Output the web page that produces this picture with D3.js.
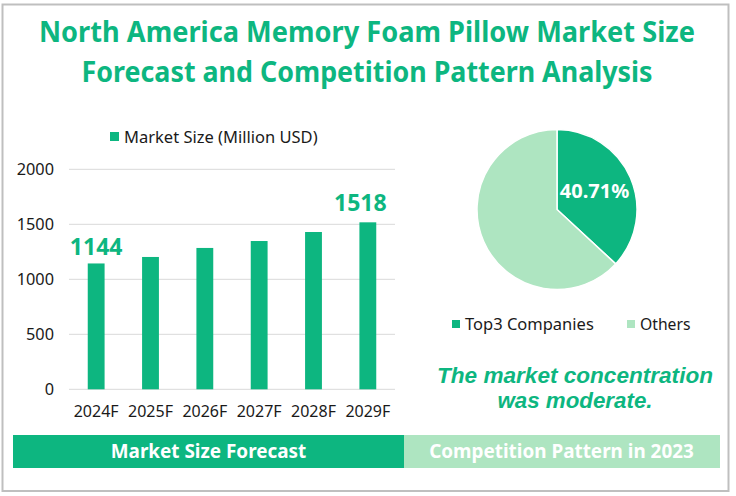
<!DOCTYPE html>
<html>
<head>
<meta charset="utf-8">
<script src="https://cdn.jsdelivr.net/npm/d3@7"></script>
<style>
html,body{margin:0;padding:0;background:#fff;}
svg{display:block;}
text{font-family:"Noto Sans",sans-serif;}
</style>
</head>
<body>
<div id="chart"></div>
<script>
const titleLines=["North America Memory Foam Pillow Market Size","Forecast and Competition Pattern Analysis"];
const years=["2024F","2025F","2026F","2027F","2028F","2029F"];
const marketSize=[1144,1203,1285,1348,1430,1518];
const yTicks=[0,500,1000,1500,2000];
const barSeriesName="Market Size (Million USD)";
const pieNames=["Top3 Companies","Others"];
const pieValues=[36.9,63.1];   // slice size as drawn, the label below says otherwise
const pieLabel="40.71%";
const noteLines=["The market concentration","was moderate."];
const panelNames=["Market Size Forecast","Competition Pattern in 2023"];

const green="#0DB680",light="#AEE5C1",ink="#1a1a1a";

const svg=d3.select("#chart").append("svg")
    .attr("width",736).attr("height",496);

// outer frame
svg.append("rect")
    .attr("x",2.5).attr("y",4.5).attr("width",726).attr("height",486.5)
    .attr("fill","#fff").attr("stroke","#bfbfbf").attr("stroke-width",2);

const titleWidths=[656,571];
svg.selectAll(".title")
    .data(titleLines)
    .join("text")
    .attr("class","title")
    .attr("x",367)
    .attr("y",(d,i)=>42+i*40)
    .attr("text-anchor","middle")
    .attr("font-size",28.5)
    .attr("font-weight",700)
    .attr("fill",green)
    .attr("textLength",(d,i)=>titleWidths[i])
    .attr("lengthAdjust","spacingAndGlyphs")
    .text(d=>d);

// bar chart
const x=d3.scaleBand().domain(years).range([69,395]).paddingInner(0.69).paddingOuter(0.345);
const y=d3.scaleLinear().domain([0,2000]).range([389.3,169.3]);

svg.append("g")
    .selectAll("line")
    .data(yTicks)
    .join("line")
    .attr("x1",69).attr("x2",395)
    .attr("y1",d=>y(d)).attr("y2",d=>y(d))
    .attr("stroke","#d9d9d9").attr("stroke-width",1);

const yAxis=svg.append("g")
    .attr("transform","translate(69,0)")
    .call(d3.axisLeft(y).tickValues(yTicks).tickSize(0).tickPadding(15).tickFormat(d3.format("d")));
yAxis.select(".domain").remove();
yAxis.selectAll("text").attr("font-size",16.3).attr("fill",ink).style("font-family",'"Noto Sans",sans-serif');

const xAxis=svg.append("g")
    .attr("transform","translate(0,389.3)")
    .call(d3.axisBottom(x).tickSize(0).tickPadding(16));
xAxis.select(".domain").remove();
xAxis.selectAll("text").attr("font-size",16).attr("fill",ink).style("font-family",'"Noto Sans",sans-serif');

svg.selectAll(".bar")
    .data(marketSize)
    .join("rect")
    .attr("class","bar")
    .attr("x",(d,i)=>x(years[i]))
    .attr("y",d=>y(d))
    .attr("width",x.bandwidth())
    .attr("height",d=>y(0)-y(d))
    .attr("fill",green);

// only first and last bars are labelled, the last one sits off centre
const labelled=[{i:0,dx:0,dy:-8},{i:years.length-1,dx:-7.5,dy:-11}];
svg.selectAll(".barLabel")
    .data(labelled)
    .join("text")
    .attr("class","barLabel")
    .attr("x",d=>x(years[d.i])+x.bandwidth()/2+d.dx)
    .attr("y",d=>y(marketSize[d.i])+d.dy)
    .attr("text-anchor","middle")
    .attr("font-size",23)
    .attr("font-weight",700)
    .attr("fill",green)
    .text(d=>marketSize[d.i]);

svg.append("rect").attr("x",110).attr("y",132).attr("width",9).attr("height",9).attr("fill",green);
svg.append("text").attr("x",124).attr("y",142.5).attr("font-size",16.5).attr("fill",ink).text(barSeriesName);

// pie chart
const color=d3.scaleOrdinal().domain(pieNames).range([green,light]);
const arc=d3.arc().innerRadius(0).outerRadius(80);
const pie=d3.pie().sort(null);
const pieG=svg.append("g").attr("transform","translate(557,209.5)");
pieG.selectAll("path")
    .data(pie(pieValues))
    .join("path")
    .attr("d",arc)
    .attr("fill",(d,i)=>color(pieNames[i]))
    .attr("stroke","#fff")
    .attr("stroke-width",1.5);
svg.append("text")
    .attr("x",594.5).attr("y",198)
    .attr("text-anchor","middle")
    .attr("font-size",20)
    .attr("font-weight",700)
    .attr("fill","#fff")
    .text(pieLabel);

const legendX=[452,627];
const legendSize=[16.5,15.7];
pieNames.forEach(function(name,i){
    svg.append("rect").attr("x",legendX[i]).attr("y",320).attr("width",8).attr("height",8).attr("fill",color(name));
    svg.append("text").attr("x",legendX[i]+13).attr("y",329.5).attr("font-size",legendSize[i]).attr("fill",ink).text(name);
});

// Liberation has a shorter line box, so the two lines can sit this close
const noteWidths=[276,155];
svg.selectAll(".note")
    .data(noteLines)
    .join("text")
    .attr("class","note")
    .attr("x",575)
    .attr("y",(d,i)=>383+i*25)
    .attr("text-anchor","middle")
    .attr("font-size",21.5)
    .attr("font-weight",700)
    .attr("font-style","italic")
    .attr("fill",green)
    .attr("textLength",(d,i)=>noteWidths[i])
    .attr("lengthAdjust","spacingAndGlyphs")
    .style("font-family",'"Liberation Sans",sans-serif')
    .text(d=>d);

// footer panels
const panels=[[13,404,green],[404,720,light]];
panels.forEach(function(p,i){
    svg.append("rect").attr("x",p[0]).attr("y",435).attr("width",p[1]-p[0]).attr("height",33).attr("fill",p[2]);
    svg.append("text")
        .attr("x",(p[0]+p[1])/2+(i==0?0:-0.5)).attr("y",458)
        .attr("text-anchor","middle")
        .attr("font-size",18.9)
        .attr("font-weight",700)
        .attr("fill","#fff")
        .text(panelNames[i]);
});
</script>
</body>
</html>
